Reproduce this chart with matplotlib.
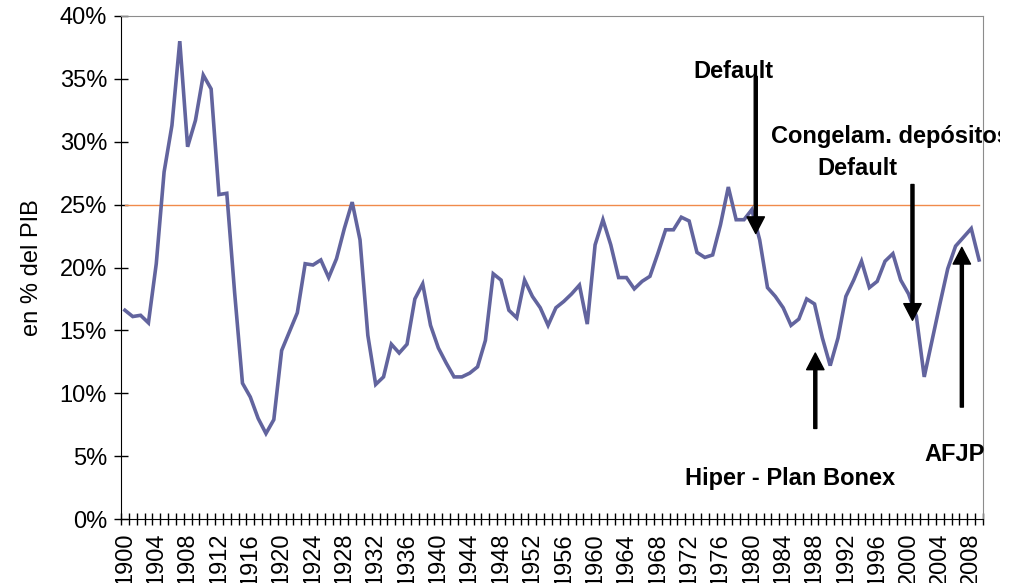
import matplotlib
matplotlib.use("Agg")
import matplotlib.pyplot as plt
from matplotlib.ticker import FixedLocator, FuncFormatter
from matplotlib.transforms import Bbox, TransformedBbox, IdentityTransform

plt.rcParams['font.family'] = ['Liberation Sans', 'DejaVu Sans']

years = list(range(1900, 2010))
values = [
    16.6, 16.1, 16.2, 15.6, 20.3, 27.6, 31.3, 38.0, 29.6, 31.7,
    35.3, 34.2, 25.8, 25.9, 18.0, 10.8, 9.7, 8.0, 6.8, 7.9,
    13.4, 14.9, 16.4, 20.3, 20.2, 20.6, 19.2, 20.7, 23.1, 25.2,
    22.2, 14.6, 10.7, 11.3, 13.9, 13.2, 13.9, 17.5, 18.7, 15.4,
    13.6, 12.4, 11.3, 11.3, 11.6, 12.1, 14.2, 19.5, 19.0, 16.6,
    16.0, 19.0, 17.7, 16.8, 15.4, 16.8, 17.3, 17.9, 18.6, 15.5,
    21.8, 23.8, 21.8, 19.2, 19.2, 18.3, 18.9, 19.3, 21.1, 23.0,
    23.0, 24.0, 23.7, 21.2, 20.8, 21.0, 23.4, 26.4, 23.8, 23.8,
    24.6, 22.2, 18.4, 17.7, 16.8, 15.4, 15.9, 17.5, 17.1, 14.4,
    12.2, 14.4, 17.7, 19.0, 20.5, 18.4, 18.9, 20.5, 21.1, 19.0,
    17.9, 16.1, 11.3, 14.2, 17.1, 19.9, 21.7, 22.4, 23.1, 20.6,
]
reference = [25.0] * len(years)

# arrows: (x position in category units, y start %, y end %)
arrows = [(80.5, 35.2, 22.7), (100.5, 26.6, 15.8), (88.1, 7.2, 13.2), (106.8, 8.9, 21.6)]
# labels: (text, x, y, ha)
labels = [
    ("Default", 77.6, 35.55, "center"),
    ("Congelam. depósitos", 82.4, 30.4, "left"),
    ("Default", 93.5, 27.9, "center"),
    ("Hiper - Plan Bonex", 84.85, 3.26, "center"),
    ("AFJP", 101.96, 5.09, "left"),
]

fig = plt.figure(figsize=(10.23, 5.83), dpi=100)
ax = fig.add_axes([121/1023, 1-519/583, (983-121)/1023, (519-16)/583])

x = list(range(len(years)))
ax.plot(x, reference, color='#F08A4B', lw=1.0, zorder=2)
ax.plot(x, values, color='#62649E', lw=2.6, zorder=3, solid_joinstyle='miter')

ax.set_xlim(-0.5, len(years) - 0.5)
ax.set_ylim(0, 40)

ax.set_yticks(range(0, 41, 5))
ax.yaxis.set_major_formatter(FuncFormatter(lambda v, p: f"{int(v)}%"))
ax.tick_params(axis='y', direction='inout', length=10, width=1, labelsize=17, pad=5)

major = [i for i, yv in enumerate(years) if (yv - 1900) % 4 == 0]
ax.set_xticks(major)
ax.set_xticklabels([str(years[i]) for i in major], rotation=90, fontsize=17)
ax.xaxis.set_minor_locator(FixedLocator([i - 0.5 for i in range(len(years) + 1)]))
ax.tick_params(axis='x', which='major', length=0, pad=10)
ax.tick_params(axis='x', which='minor', direction='inout', length=8, width=1)

ax.set_ylabel("en % del PIB", fontsize=17, labelpad=12)

for sp in ['top', 'right']:
    ax.spines[sp].set_color('#8c8c8c')
for sp in ['left', 'bottom']:
    ax.spines[sp].set_color('black')

for xa, y0, y1 in arrows:
    ax.annotate("", xy=(xa, y1), xytext=(xa, y0),
                arrowprops=dict(width=2.2, headwidth=12.5, headlength=12, color='black', shrink=0),
                zorder=5)

clip = TransformedBbox(Bbox([[0, 0], [1000, 583]]), IdentityTransform())
for txt, tx, ty, ha in labels:
    t = ax.text(tx, ty, txt, fontsize=17, fontweight='bold', ha=ha, va='center', zorder=6)
    t.set_clip_box(clip)
    t.set_clip_on(True)

fig.savefig("out.png", dpi=100)
